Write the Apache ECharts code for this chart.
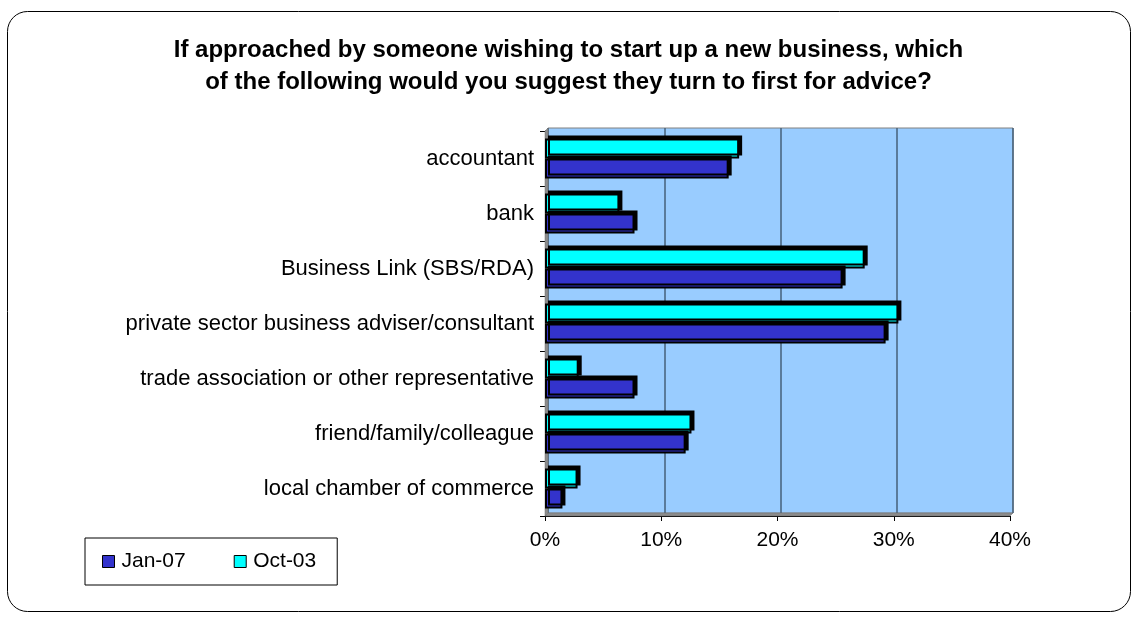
<!DOCTYPE html>
<html>
<head>
<meta charset="utf-8">
<script src="https://cdn.jsdelivr.net/npm/echarts@6/dist/echarts.min.js"></script>
<style>
  html, body { margin: 0; padding: 0; background: #fff; }
  #chart { width: 1137px; height: 619px; }
</style>
</head>
<body>
<div id="chart"></div>
<script>
// Survey answers: where to send someone starting a new business (% of respondents)
const categories = [
  'accountant',
  'bank',
  'Business Link (SBS/RDA)',
  'private sector business adviser/consultant',
  'trade association or other representative',
  'friend/family/colleague',
  'local chamber of commerce'
];
const jan07 = [15.8, 7.7, 25.6, 29.3, 7.7, 12.1, 1.5];
const oct03 = [16.7, 6.4, 27.5, 30.4, 2.9, 12.6, 2.8];
const xTicks = [0, 10, 20, 30, 40];

const FONT = 'Arial, "Liberation Sans", sans-serif';
const DEPTH = 3; // offset of the back wall, gives the flat 3-D look

const chart = echarts.init(document.getElementById('chart'), null, { renderer: 'canvas' });

const plot = { left: 545, top: 131, width: 465, height: 385 };

const barStyle = (color) => ({
  color: color,
  borderColor: '#000',
  borderWidth: 2,
  shadowColor: '#000',
  shadowBlur: 0,
  shadowOffsetX: DEPTH,
  shadowOffsetY: -DEPTH
});

chart.setOption({
  animation: false,
  backgroundColor: '#fff',
  title: {
    text: 'If approached by someone wishing to start up a new business, which\nof the following would you suggest they turn to first for advice?',
    left: 'center',
    top: 29,
    textStyle: {
      fontFamily: FONT,
      fontSize: 24,
      fontWeight: 'bold',
      color: '#000',
      lineHeight: 32
    }
  },
  legend: {
    data: ['Jan-07', 'Oct-03'],
    left: 85,
    top: 538,
    orient: 'horizontal',
    icon: 'rect',
    itemWidth: 12,
    itemHeight: 12,
    itemGap: 48,
    padding: [13, 21, 13, 17],
    borderColor: '#000',
    borderWidth: 1,
    textStyle: { fontFamily: FONT, fontSize: 21, color: '#000', padding: [0, 0, 0, 2] },
    itemStyle: { borderColor: '#000', borderWidth: 1 }
  },
  grid: [
    Object.assign({ containLabel: false }, plot),
    {
      left: plot.left + DEPTH, top: plot.top - DEPTH,
      width: plot.width, height: plot.height,
      show: true, backgroundColor: '#99CCFF', borderColor: '#808080', borderWidth: 1
    }
  ],
  xAxis: [
    {
      gridIndex: 0, type: 'value', min: xTicks[0], max: xTicks[xTicks.length - 1], interval: 10,
      axisLine: { show: true, lineStyle: { color: '#000', width: 1 } },
      axisTick: { show: true, length: 5, lineStyle: { color: '#000' } },
      axisLabel: { formatter: '{value}%', fontFamily: FONT, fontSize: 21, color: '#000', margin: 14 },
      splitLine: { show: false }
    },
    {
      gridIndex: 1, type: 'value', min: xTicks[0], max: xTicks[xTicks.length - 1], interval: 10,
      axisLine: { show: false }, axisTick: { show: false }, axisLabel: { show: false },
      splitLine: { show: true, lineStyle: { color: '#46607a', width: 1.5 } }
    }
  ],
  yAxis: [
    {
      gridIndex: 0, type: 'category', data: categories, inverse: true,
      axisLine: { show: true, lineStyle: { color: '#000', width: 1 } },
      axisTick: { show: true, length: 5, lineStyle: { color: '#000' } },
      axisLabel: { fontFamily: FONT, fontSize: 22, color: '#000', margin: 11 },
      splitLine: { show: false }
    },
    {
      gridIndex: 1, type: 'category', data: categories, inverse: true, show: false
    }
  ],
  series: [
    {
      name: 'Oct-03', type: 'bar', xAxisIndex: 0, yAxisIndex: 0,
      data: oct03, barWidth: 20, barGap: '0%',
      itemStyle: barStyle('#00FFFF')
    },
    {
      name: 'Jan-07', type: 'bar', xAxisIndex: 0, yAxisIndex: 0,
      data: jan07, barWidth: 20, barGap: '0%',
      itemStyle: barStyle('#3333CC')
    }
  ]
});

// Side wall and floor of the plot box, plus the rounded outer frame
const x0 = plot.left, x1 = plot.left + plot.width;
const y0 = plot.top, y1 = plot.top + plot.height;
chart.setOption({
  graphic: [
    {
      type: 'polygon', z: 1, silent: true,
      shape: { points: [[x0, y0], [x0 + DEPTH, y0 - DEPTH], [x0 + DEPTH, y1 - DEPTH], [x0, y1]] },
      style: { fill: '#8c8c8c', stroke: '#6e6e6e', lineWidth: 0.5 }
    },
    {
      type: 'polygon', z: 1, silent: true,
      shape: { points: [[x0, y1], [x0 + DEPTH, y1 - DEPTH], [x1 + DEPTH, y1 - DEPTH], [x1, y1]] },
      style: { fill: '#8c8c8c', stroke: '#6e6e6e', lineWidth: 0.5 }
    },
    {
      type: 'rect', z: 0, silent: true,
      shape: { x: 7.5, y: 11.5, width: 1123, height: 600, r: 20 },
      style: { fill: null, stroke: '#000', lineWidth: 1 }
    }
  ]
});
</script>
</body>
</html>
